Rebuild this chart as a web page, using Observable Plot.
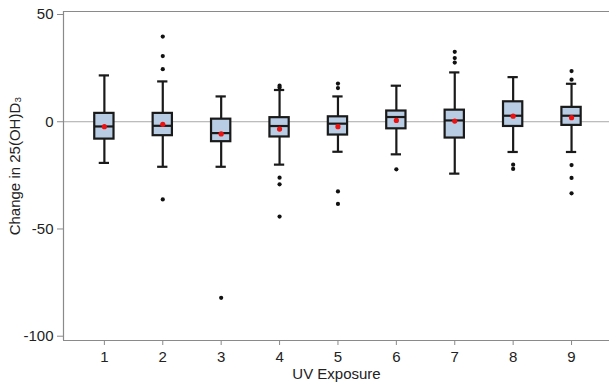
<!DOCTYPE html>
<html>
<head>
<meta charset="utf-8">
<script src="https://cdn.jsdelivr.net/npm/d3@7"></script>
<script src="https://cdn.jsdelivr.net/npm/@observablehq/plot@0.6"></script>
<style>
  html, body { margin: 0; padding: 0; background: #fff; }
  svg { font-family: "Liberation Sans", Arial, sans-serif; }
</style>
</head>
<body>
<div id="chart"></div>
<script>
const groups      = [1, 2, 3, 4, 5, 6, 7, 8, 9];
const whiskerLow  = [-19.2, -21, -21, -20, -14, -15.2, -24.2, -14.1, -14.1];
const q1          = [-8.1, -6.5, -9.3, -7.1, -6.2, -3.3, -7.6, -2.2, -1.7];
const median      = [-2.2, -1.9, -5.3, -2.0, -0.9, 2.2, 0.6, 2.8, 2.8];
const q3          = [3.9, 3.9, 1.2, 1.9, 2.3, 5.0, 5.4, 9.3, 6.7];
const whiskerHigh = [21.6, 18.8, 11.8, 14.8, 11.8, 16.8, 23, 20.8, 17.7];
const means       = [-2.3, -1.2, -5.7, -3.4, -2.3, 0.6, 0.3, 2.6, 1.9];

const outlierGroup = [2, 2, 2, 2, 3, 4, 4, 4, 4, 4, 5, 5, 5, 5, 6, 7, 7, 7, 8, 8, 9, 9, 9, 9, 9];
const outlierValue = [39.7, 30.6, 24.5, -36.2, -82.1, 16.8, 16.0, -26.1, -29.2, -44.2, 17.8, 15.7, -32.5, -38.3, -22.2, 32.6, 29.7, 27.6, -20, -22, 23.6, 19.6, -20.2, -26.2, -33.4];

const yTicks = [-100, -50, 0, 50];
const xDomain = [0.3, 9.65];
const yDomain = [-102, 51.4];

const boxes = groups.map((g, i) => ({
  g, lo: whiskerLow[i], q1: q1[i], med: median[i], q3: q3[i], hi: whiskerHigh[i], mean: means[i]
}));
const outliers = outlierGroup.map((g, i) => ({g, v: outlierValue[i]}));

const boxHalf = 0.165;
const capHalf = 0.088;
const axisGray = "#8a8a8a";
const dark = "#1a1a1a";

const chart = Plot.plot({
  width: 609,
  height: 385,
  marginLeft: 63,
  marginRight: 0,
  marginTop: 11,
  marginBottom: 45,
  style: {fontSize: "15px", fontFamily: "'Liberation Sans', Arial, sans-serif", color: "#222"},
  x: {type: "linear", domain: xDomain},
  y: {domain: yDomain},
  marks: [
    Plot.ruleY([0], {stroke: "#a8a8a8", strokeWidth: 1}),
    Plot.ruleY([yDomain[1]], {stroke: axisGray, strokeWidth: 1.2}),
    Plot.ruleX([xDomain[0]], {stroke: axisGray, strokeWidth: 1.2}),
    Plot.ruleY([yDomain[0]], {stroke: axisGray, strokeWidth: 1.2}),
    Plot.axisY({ticks: yTicks, tickSize: 6, tickPadding: 4, stroke: axisGray, label: null, tickFormat: d => d}),
    Plot.axisX({ticks: groups, tickSize: 5, tickPadding: 6, stroke: axisGray, label: null, tickFormat: d => d}),
    Plot.ruleX(boxes, {x: "g", y1: "lo", y2: "hi", stroke: dark, strokeWidth: 2.2}),
    Plot.ruleY(boxes, {y: "lo", x1: d => d.g - capHalf, x2: d => d.g + capHalf, stroke: dark, strokeWidth: 2.2}),
    Plot.ruleY(boxes, {y: "hi", x1: d => d.g - capHalf, x2: d => d.g + capHalf, stroke: dark, strokeWidth: 2.2}),
    Plot.rect(boxes, {x1: d => d.g - boxHalf, x2: d => d.g + boxHalf, y1: "q1", y2: "q3", fill: "#b8cce4", stroke: dark, strokeWidth: 2.2}),
    Plot.ruleY(boxes, {y: "med", x1: d => d.g - boxHalf, x2: d => d.g + boxHalf, stroke: dark, strokeWidth: 2.2}),
    Plot.dot(boxes, {x: "g", y: "mean", r: 2.6, fill: "#ee1111", stroke: "none"}),
    Plot.dot(outliers, {x: "g", y: "v", r: 2.1, fill: "#111", stroke: "none"}),
    Plot.text(["Change in 25(OH)D₃"], {frameAnchor: "left", rotate: -90, dx: -48, dy: -10, fontSize: 15, fill: "#222", textAnchor: "middle"}),
    Plot.text(["UV Exposure"], {frameAnchor: "bottom", dy: 38, fontSize: 15, fill: "#222", textAnchor: "middle"})
  ]
});
document.getElementById("chart").appendChild(chart);
</script>
</body>
</html>
